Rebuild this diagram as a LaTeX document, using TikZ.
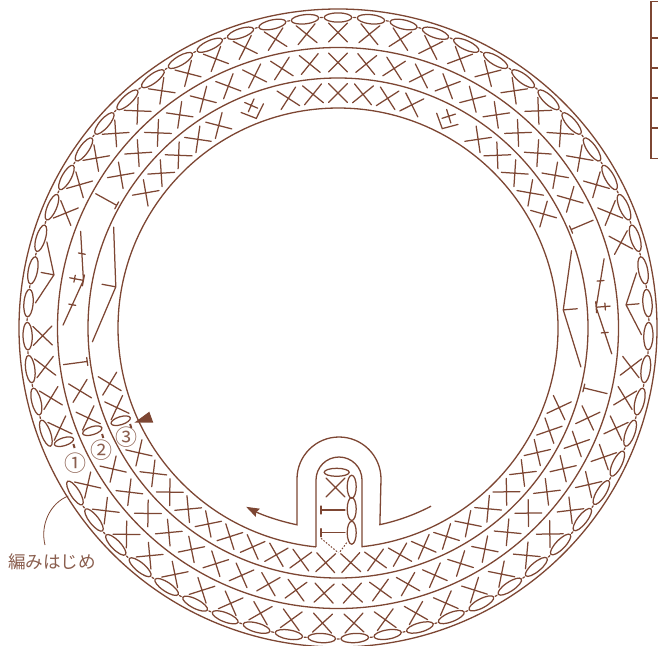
\documentclass[tikz,border=0pt]{standalone}
\usepackage{fontspec}
\newfontfamily\cjk{Noto Sans CJK JP}
\usetikzlibrary{arrows.meta}
\definecolor{br}{HTML}{7D4633}
\definecolor{brt}{HTML}{8A5E4E}
\tikzset{
  ln/.style={draw=br,line width=1.3pt},
  st/.style={draw=br,line width=1.25pt,line cap=round},
  loc/.style={shift={(338,328)},rotate=-#1},
}
\newcommand{\StX}[2]{\draw[st,loc=#1] (-9.5,-#2-9.5)--(9.5,-#2+9.5) (9.5,-#2-9.5)--(-9.5,-#2+9.5);}
\newcommand{\StT}[1]{\draw[st,loc=#1] (0,-277)--(0,-253) (-4,-253)--(4,-253);}
\newcommand{\StOv}[1]{\draw[st,loc=#1] (0,-310.5) ellipse[x radius=13.8,y radius=4.6];}
\newcommand{\StLink}[1]{\draw[st,loc=#1] (-1,-311)--(1,-311);}
\newcommand{\StVa}[1]{\draw[st,loc=#1] (-31,-302)--(0,-289)--(31,-302) (0,-289)--(0,-302);}
\newcommand{\StVb}[1]{\draw[st,loc=#1] (-47.7,-270.8)--(0,-259)--(47.7,-270.8) (0,-259)--(0,-273)
   (-5.5,-259)--(5.5,-259) (-3.5,-268)--(3.5,-268)
   (-26,-262)--(-26,-269) (26,-262)--(26,-269);}
\newcommand{\StVc}[1]{\draw[st,loc=#1] (-58.3,-239)--(0,-226)--(58.3,-239) (0,-226)--(0,-240);}
\newcommand{\StW}[1]{\draw[st,loc=#1] (-12,-236)--(0,-225)--(12,-236) (-5,-234)--(5,-244) (5,-234)--(-5,-244);}
\begin{document}
\begin{tikzpicture}[x=1pt,y=-1pt]
\useasboundingbox (0,0) rectangle (658,645);
\clip (0,0) rectangle (658,645);
\coordinate (c) at (338,328);
\draw[ln] (c) circle[radius=319pt];
\draw[ln] (c) circle[radius=280.5pt];
\draw[ln] (c) circle[radius=250pt];
% inner circle with keyhole
\draw[ln] (316,546.9) -- (316,480) arc[start angle=180,end angle=0,radius=23pt] -- (362,546.7)
  arc[start angle=276.26,end angle=624.26,radius=220pt];
% outer arch with arrow
\draw[ln,-{Stealth[length=13pt,width=9pt,inset=1.5pt]}] (431,506.2)
  arc[start angle=297.6,end angle=282.06,radius=201pt] -- (381,479)
  arc[start angle=0,end angle=180,radius=42pt] -- (297,524.8)
  arc[start angle=258.23,end angle=242.8,radius=201pt];
% ovals, row 1
\foreach \k in {0,...,57}{\pgfmathsetmacro{\a}{237.9-6.1*\k}\StOv{\a}}
\foreach \k in {0,...,56}{\pgfmathsetmacro{\a}{237.9-6.1*(\k+.5)}\StLink{\a}}
% row 1
\foreach \k in {0,...,23,27,28,...,50,54,55,56,57}{\pgfmathsetmacro{\a}{237.9-6.1*\k}\StX{\a}{295.5}}
% row 2
\foreach \k in {0,...,21,29,30,...,48,56,57}{\pgfmathsetmacro{\a}{237.9-6.1*\k}\StX{\a}{265.5}}
\foreach \k in {22,28,49,55}{\pgfmathsetmacro{\a}{237.9-6.1*\k}\StT{\a}}
% row 3
\foreach \k in {0,...,21,29,30,...,33,36,37,...,41,44,45,...,48,56,57}{\pgfmathsetmacro{\a}{237.9-6.1*\k}\StX{\a}{235}}
% increases
\StVa{85.4}\StVa{280.6}
\StVb{85.4}\StVb{280.6}
\StVc{85.4}\StVc{280.5}
\StW{27.6}\StW{-21.3}
% end-of-row chains
\foreach \x/\y in {64/441.7,92.3/430.7,120.7/420.7}{
  \draw[st,rotate around={17:(\x,\y)}] (\x,\y) ellipse[x radius=10,y radius=4];}
\foreach \x/\y in {74/446,102.7/436,130.7/426}{
  \draw[draw=br,line width=2pt] (\x-.6,\y-2)--(\x+.6,\y+2);}
\fill[br] (134.3,422.7)--(153.3,422.7)--(149.3,411.7)--cycle;
% round numbers
\node[text=brt,font=\cjk\fontsize{22}{22}\selectfont,inner sep=0pt] (n1) at (75,462.7) {①};
\node[text=brt,font=\cjk\fontsize{22}{22}\selectfont,inner sep=0pt] (n2) at (101.7,450) {②};
\node[text=brt,font=\cjk\fontsize{22}{22}\selectfont,inner sep=0pt] (n3) at (126.7,437.3) {③};
% start label
\node[text=brt,font=\cjk\fontsize{17.6}{18}\selectfont,inner sep=0pt,anchor=west] (lab) at (8,562) {編みはじめ};
\coordinate (s) at (68.3,496);
\coordinate (e) at (45,545);
\draw[draw=br,line width=.8pt] (s) .. controls (50,503) and (40,525) .. (e);
% centre stitches
\draw[st] (336.7,472.3) ellipse[x radius=12.5,y radius=4];
\draw[st] (326,478)--(345,497) (345,478)--(326,497);
\foreach \y in {486.7,509,532.7}{\draw[st] (351.7,\y) ellipse[x radius=4.5,y radius=11.5];}
\foreach \y in {510,532.7}{\draw[st] (321,\y)--(345,\y) (321,\y-4)--(321,\y+4);}
\draw[draw=br,line width=1pt,dash pattern=on 1.6pt off 1.6pt] (321,538.3)--(338.3,552.7) (346.7,542.7)--(340,551.7);
% clipped table at the top right
\draw[ln] (659,1.5)--(651,1.5)--(651,158.5)--(659,158.5);
\foreach \y in {38,68,98,128}{\draw[ln] (651,\y)--(659,\y);}
\end{tikzpicture}
\end{document}
